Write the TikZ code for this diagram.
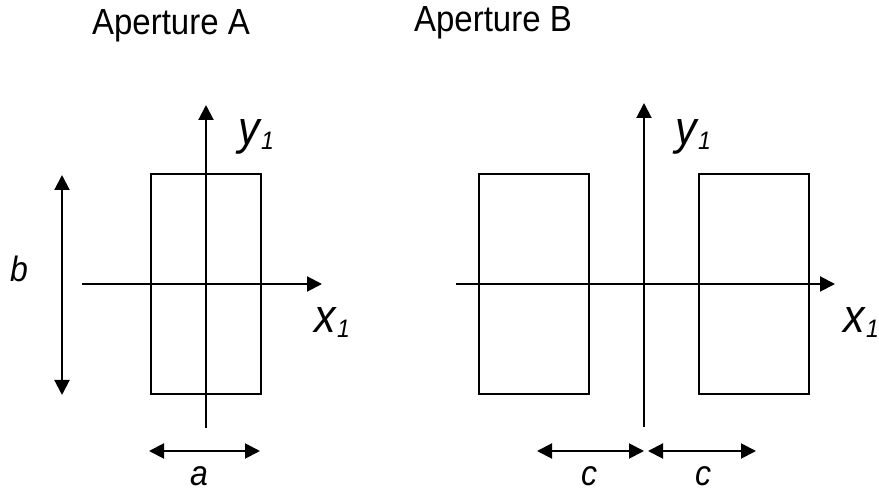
\documentclass[tikz,border=0pt]{standalone}
\usepackage{fontspec}
\usepackage{graphicx}
\setmainfont{Liberation Sans}
\usetikzlibrary{arrows.meta,positioning}
\tikzset{
  >={Triangle[length=15pt,width=15pt]},
  every node/.style={inner sep=0pt,outer sep=0pt,text=black},
  title/.style={font=\fontsize{33}{38}\selectfont,anchor=base},
  slot/.style={draw,line width=1.5pt,minimum width=110pt,minimum height=220pt},
  axis/.style={->,line width=2pt},
  dim/.style={<->,line width=2pt},
  sym/.style={font=\fontsize{32}{36}\selectfont\itshape,anchor=base},
  axlabel/.style={font=\fontsize{43}{46}\selectfont\itshape,anchor=base west},
}
\newcommand{\tall}[1]{\scalebox{1}[1.1]{#1}}
\newcommand{\axsym}[1]{\tall{#1\kern1.5pt\raisebox{-4pt}{\fontsize{23}{25}\selectfont 1}}}

\begin{document}
\begin{tikzpicture}[x=1pt,y=1pt]
  \useasboundingbox (0,0) rectangle (879,492);
  \node[title] (titleA) at (171,457) {\tall{Aperture A}};
  \node[title] (titleB) at (493,460) {\tall{Aperture B}};

  \node[slot] (rectA) at (206,208) {};
  \coordinate (yAbot) at (206,64); \coordinate (yAtop) at (206,387);
  \coordinate (xAleft) at (82,208); \coordinate (xAright) at (322,208);
  \draw[axis] (yAbot) -- (yAtop); \draw[axis] (xAleft) -- (xAright);
  \node[axlabel] (yA) at (238,347) {\axsym{y}};
  \node[axlabel] (xA) at (314,159) {\axsym{x}};
  \coordinate (bTop) at (62,317); \coordinate (bBot) at (62,97);
  \draw[dim] (bBot) -- (bTop);
  \node[sym] (b) at (19,210) {\tall{b}};
  \coordinate (aLeft) at (149,41); \coordinate (aRight) at (260,41);
  \draw[dim] (aLeft) -- (aRight);
  \node[sym] (a) at (199,6) {\tall{a}};

  \node[slot] (rectBL) at (534,208) {};
  \node[slot] (rectBR) at (754,208) {};
  \coordinate (yBbot) at (644,65); \coordinate (yBtop) at (644,389);
  \coordinate (xBleft) at (456,208); \coordinate (xBright) at (835,208);
  \draw[axis] (yBbot) -- (yBtop); \draw[axis] (xBleft) -- (xBright);
  \node[axlabel] (yB) at (675,347) {\axsym{y}};
  \node[axlabel] (xB) at (843,159) {\axsym{x}};
  \coordinate (cOne) at (537,41); \coordinate (cMid) at (644,41);
  \coordinate (cTwo) at (648,41); \coordinate (cEnd) at (756,41);
  \draw[dim] (cOne) -- (cMid); \draw[dim] (cTwo) -- (cEnd);
  \node[sym] (cl) at (589,6) {\tall{c}};
  \node[sym] (cr) at (703,6) {\tall{c}};
\end{tikzpicture}
\end{document}
